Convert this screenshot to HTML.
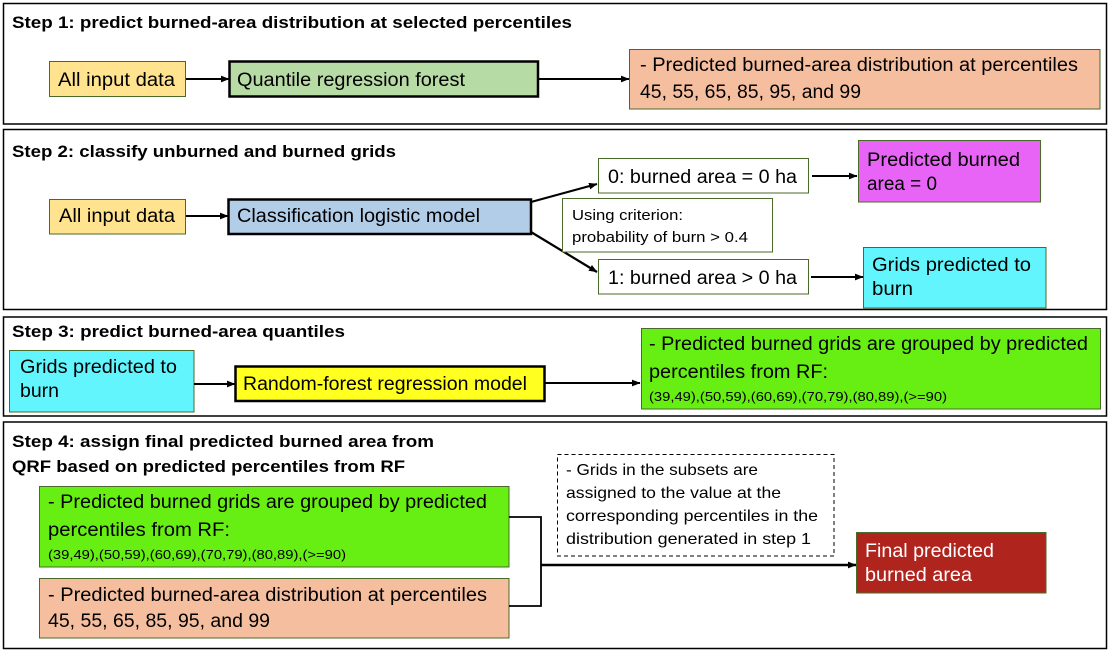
<!DOCTYPE html>
<html>
<head>
<meta charset="utf-8">
<style>
  html, body { margin:0; padding:0; background:#fff; }
  body { width:1111px; height:653px; overflow:hidden; }
  svg { display:block; }
  text { font-family: "Liberation Sans", Arial, sans-serif; fill:#000; }
  .t { font-size:17px; font-weight:bold; }
  .m { font-size:19px; }
  .s { font-size:12.5px; }
  .c { font-size:14.5px; }
  .d { font-size:16px; }
</style>
</head>
<body>
<svg width="1111" height="653" viewBox="0 0 1111 653" xmlns="http://www.w3.org/2000/svg">
  <defs>
    <marker id="ah" markerWidth="9" markerHeight="8" refX="8" refY="4" orient="auto" markerUnits="userSpaceOnUse">
      <path d="M0,0.6 L8.5,4 L0,7.4 z" fill="#000"/>
    </marker>
  </defs>

  <!-- Panels -->
  <rect x="3.5" y="3.5" width="1103" height="120.5" fill="none" stroke="#000" stroke-width="1.5"/>
  <rect x="3.5" y="129.5" width="1103" height="180" fill="none" stroke="#000" stroke-width="1.5"/>
  <rect x="3.5" y="317" width="1103" height="99" fill="none" stroke="#000" stroke-width="1.5"/>
  <rect x="3.5" y="422" width="1103" height="226.5" fill="none" stroke="#000" stroke-width="1.5"/>

  <!-- STEP 1 -->
  <text class="t" x="12" y="28" textLength="560" lengthAdjust="spacingAndGlyphs">Step 1: predict burned-area distribution at selected percentiles</text>
  <rect x="49.5" y="61.5" width="136" height="35" fill="#FFE38F" stroke="#4a6a2a" stroke-width="1"/>
  <text class="m" x="58" y="86" textLength="117" lengthAdjust="spacingAndGlyphs">All input data</text>
  <line x1="186" y1="79" x2="229" y2="79" stroke="#000" stroke-width="2" marker-end="url(#ah)"/>
  <rect x="229.5" y="61.5" width="308.5" height="35" fill="#B7DBA5" stroke="#000" stroke-width="2.5"/>
  <text class="m" x="237" y="86" textLength="228" lengthAdjust="spacingAndGlyphs">Quantile regression forest</text>
  <line x1="539" y1="79" x2="629" y2="79" stroke="#000" stroke-width="2" marker-end="url(#ah)"/>
  <rect x="629.5" y="49.5" width="470.5" height="59.5" fill="#F5BE9F" stroke="#4a6a2a" stroke-width="1"/>
  <text class="m" x="640" y="71" textLength="438" lengthAdjust="spacingAndGlyphs">- Predicted burned-area distribution at percentiles</text>
  <text class="m" x="640" y="98" textLength="221" lengthAdjust="spacingAndGlyphs">45, 55, 65, 85, 95, and 99</text>

  <!-- STEP 2 -->
  <text class="t" x="12" y="157" textLength="384" lengthAdjust="spacingAndGlyphs">Step 2:  classify unburned and burned grids</text>
  <rect x="49.5" y="199.5" width="136" height="34.5" fill="#FFE38F" stroke="#4a6a2a" stroke-width="1"/>
  <text class="m" x="59" y="222" textLength="116" lengthAdjust="spacingAndGlyphs">All input data</text>
  <line x1="186" y1="216" x2="228" y2="216" stroke="#000" stroke-width="2" marker-end="url(#ah)"/>
  <rect x="228.5" y="199.5" width="302.5" height="34.5" fill="#B2CDE8" stroke="#000" stroke-width="2.5"/>
  <text class="m" x="237" y="222" textLength="243" lengthAdjust="spacingAndGlyphs">Classification logistic model</text>
  <line x1="531" y1="202" x2="597" y2="184" stroke="#000" stroke-width="2.2" marker-end="url(#ah)"/>
  <line x1="531" y1="232" x2="597" y2="272" stroke="#000" stroke-width="2.2" marker-end="url(#ah)"/>

  <rect x="598.5" y="158.5" width="210" height="34.5" fill="#fff" stroke="#4a6a2a" stroke-width="1"/>
  <text class="m" x="608" y="183" textLength="189" lengthAdjust="spacingAndGlyphs">0: burned area = 0 ha</text>
  <line x1="812" y1="176" x2="857" y2="176" stroke="#000" stroke-width="2" marker-end="url(#ah)"/>
  <rect x="858.5" y="140.5" width="182" height="61.5" fill="#E864F7" stroke="#4a6a2a" stroke-width="1"/>
  <text class="m" x="867" y="166" textLength="153" lengthAdjust="spacingAndGlyphs">Predicted burned</text>
  <text class="m" x="867" y="190" textLength="70" lengthAdjust="spacingAndGlyphs">area = 0</text>

  <rect x="562.5" y="198.5" width="210" height="53.5" fill="#fff" stroke="#4a6a2a" stroke-width="1"/>
  <text class="c" x="572" y="220" textLength="111" lengthAdjust="spacingAndGlyphs">Using criterion:</text>
  <text class="c" x="572" y="242" textLength="176" lengthAdjust="spacingAndGlyphs">probability of burn &gt; 0.4</text>

  <rect x="598.5" y="259.5" width="210" height="34.5" fill="#fff" stroke="#4a6a2a" stroke-width="1"/>
  <text class="m" x="608" y="284" textLength="189" lengthAdjust="spacingAndGlyphs">1: burned area &gt; 0 ha</text>
  <line x1="811" y1="277" x2="863" y2="277" stroke="#000" stroke-width="2" marker-end="url(#ah)"/>
  <rect x="863.5" y="247.5" width="182.5" height="60.5" fill="#62F5FD" stroke="#4a6a2a" stroke-width="1"/>
  <text class="m" x="872" y="271" textLength="159" lengthAdjust="spacingAndGlyphs">Grids predicted to</text>
  <text class="m" x="872" y="295" textLength="41" lengthAdjust="spacingAndGlyphs">burn</text>

  <!-- STEP 3 -->
  <text class="t" x="12" y="337" textLength="333" lengthAdjust="spacingAndGlyphs">Step 3: predict burned-area quantiles</text>
  <rect x="9.5" y="350.5" width="184.5" height="61.5" fill="#62F5FD" stroke="#4a6a2a" stroke-width="1"/>
  <text class="m" x="20" y="373" textLength="157" lengthAdjust="spacingAndGlyphs">Grids predicted to</text>
  <text class="m" x="20" y="397" textLength="39" lengthAdjust="spacingAndGlyphs">burn</text>
  <line x1="194" y1="384" x2="235" y2="384" stroke="#000" stroke-width="2" marker-end="url(#ah)"/>
  <rect x="235.5" y="366.5" width="309" height="34.5" fill="#FFFF20" stroke="#000" stroke-width="2.5"/>
  <text class="m" x="243" y="390" textLength="284" lengthAdjust="spacingAndGlyphs">Random-forest regression model</text>
  <line x1="545" y1="383" x2="640" y2="383" stroke="#000" stroke-width="2" marker-end="url(#ah)"/>
  <rect x="641.5" y="328.5" width="459" height="80.5" fill="#67EF14" stroke="#4a6a2a" stroke-width="1"/>
  <text class="m" x="649" y="350" textLength="439" lengthAdjust="spacingAndGlyphs">- Predicted burned grids are grouped by predicted</text>
  <text class="m" x="649" y="378" textLength="179" lengthAdjust="spacingAndGlyphs">percentiles from RF:</text>
  <text class="s" x="649" y="401" textLength="298" lengthAdjust="spacingAndGlyphs">(39,49),(50,59),(60,69),(70,79),(80,89),(&gt;=90)</text>

  <!-- STEP 4 -->
  <text class="t" x="12" y="447" textLength="422" lengthAdjust="spacingAndGlyphs">Step 4:  assign final predicted burned area from</text>
  <text class="t" x="12" y="472" textLength="393" lengthAdjust="spacingAndGlyphs">QRF based on predicted percentiles from RF</text>

  <rect x="39.5" y="486.5" width="469.5" height="80.5" fill="#67EF14" stroke="#4a6a2a" stroke-width="1"/>
  <text class="m" x="48" y="508" textLength="439" lengthAdjust="spacingAndGlyphs">- Predicted burned grids are grouped by predicted</text>
  <text class="m" x="48" y="536" textLength="182" lengthAdjust="spacingAndGlyphs">percentiles from RF:</text>
  <text class="s" x="48" y="559" textLength="298" lengthAdjust="spacingAndGlyphs">(39,49),(50,59),(60,69),(70,79),(80,89),(&gt;=90)</text>

  <rect x="39.5" y="578.5" width="469.5" height="59.5" fill="#F5BE9F" stroke="#4a6a2a" stroke-width="1"/>
  <text class="m" x="48" y="601" textLength="439" lengthAdjust="spacingAndGlyphs">- Predicted burned-area distribution at percentiles</text>
  <text class="m" x="48" y="627" textLength="222" lengthAdjust="spacingAndGlyphs">45, 55, 65, 85, 95, and 99</text>

  <polyline points="509,517 541,517 541,606 509,606" fill="none" stroke="#000" stroke-width="1.8"/>
  <line x1="541" y1="565" x2="856" y2="565" stroke="#000" stroke-width="2.5" marker-end="url(#ah)"/>

  <rect x="557.5" y="454.5" width="276.5" height="101.5" fill="#fff" stroke="#000" stroke-width="1" stroke-dasharray="4,3"/>
  <text class="d" x="566" y="475" textLength="192" lengthAdjust="spacingAndGlyphs">- Grids in the subsets are</text>
  <text class="d" x="566" y="498" textLength="215" lengthAdjust="spacingAndGlyphs">assigned to the value at the</text>
  <text class="d" x="566" y="521" textLength="252" lengthAdjust="spacingAndGlyphs">corresponding percentiles in the</text>
  <text class="d" x="566" y="544" textLength="245" lengthAdjust="spacingAndGlyphs">distribution generated in step 1</text>

  <rect x="856.5" y="532.5" width="189.5" height="60.5" fill="#B0241E" stroke="#4a6a2a" stroke-width="1"/>
  <text class="m" x="865" y="557" textLength="129" lengthAdjust="spacingAndGlyphs" style="fill:#fff">Final predicted</text>
  <text class="m" x="865" y="581" textLength="107" lengthAdjust="spacingAndGlyphs" style="fill:#fff">burned area</text>
</svg>
</body>
</html>
